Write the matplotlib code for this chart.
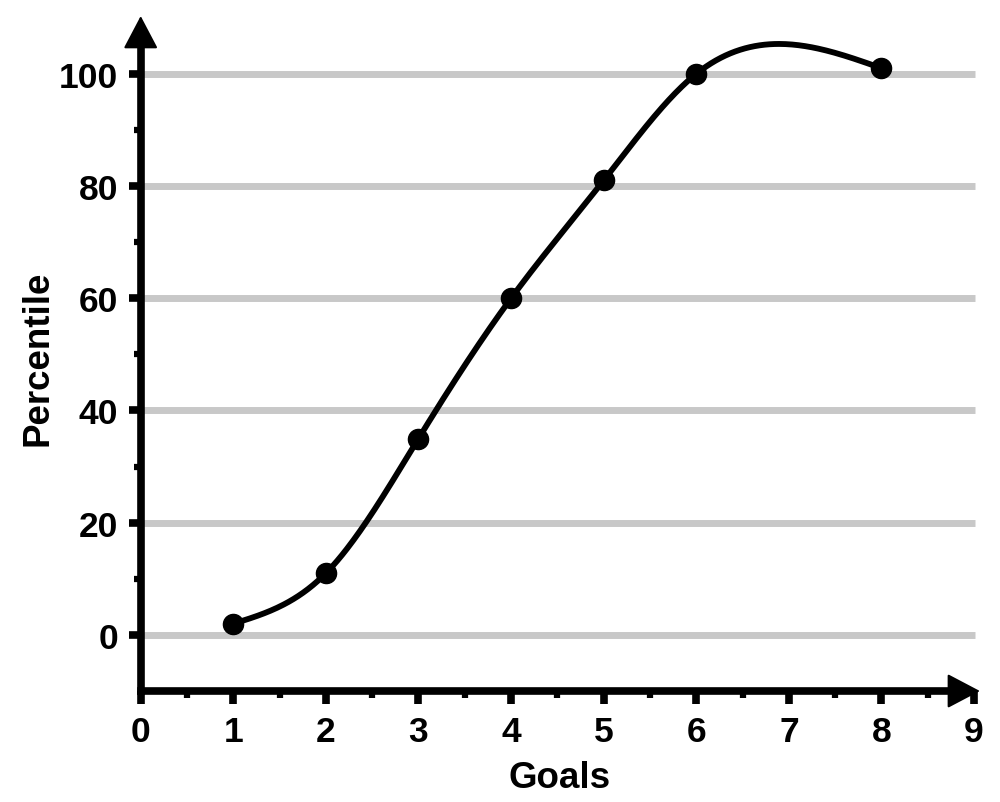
import numpy as np
import matplotlib
matplotlib.use("Agg")
import matplotlib.pyplot as plt
from matplotlib.ticker import MultipleLocator, FixedLocator

goals = [1, 2, 3, 4, 5, 6, 8]
percentile = [2, 11, 35, 60, 81, 100, 101]


def natural_spline(x, y, n=400):
    # plain natural cubic spline, just for the drawn connector
    x = np.asarray(x, float)
    y = np.asarray(y, float)
    k = len(x)
    h = np.diff(x)
    A = np.zeros((k, k))
    b = np.zeros(k)
    A[0, 0] = 1
    A[-1, -1] = 1
    for i in range(1, k - 1):
        A[i, i - 1] = h[i - 1]
        A[i, i] = 2 * (h[i - 1] + h[i])
        A[i, i + 1] = h[i]
        b[i] = 6 * ((y[i + 1] - y[i]) / h[i] - (y[i] - y[i - 1]) / h[i - 1])
    M = np.linalg.solve(A, b)
    xs = np.linspace(x[0], x[-1], n)
    idx = np.clip(np.searchsorted(x, xs) - 1, 0, k - 2)
    x0, x1 = x[idx], x[idx + 1]
    hh = x1 - x0
    ys = (M[idx] * (x1 - xs) ** 3 / (6 * hh) + M[idx + 1] * (xs - x0) ** 3 / (6 * hh)
          + (y[idx] / hh - M[idx] * hh / 6) * (x1 - xs)
          + (y[idx + 1] / hh - M[idx + 1] * hh / 6) * (xs - x0))
    return xs, ys


def main():
    plt.rcParams["font.family"] = ["Liberation Sans", "DejaVu Sans"]
    plt.rcParams["font.weight"] = "bold"

    fig = plt.figure(figsize=(10, 8.03), dpi=100)
    ax = fig.add_axes([0.1407, 0.1382, 0.8334, 0.8406])

    ax.set_xlim(0, 9)
    ax.set_ylim(-10, 110.3)

    for v in range(0, 101, 20):
        ax.plot([0, 9.01], [v, v], color="#c8c8c8", lw=5, zorder=1,
                solid_capstyle="butt", clip_on=False)

    xs, ys = natural_spline(goals, percentile)
    ax.plot(xs, ys, color="black", lw=4.2, zorder=3)
    ax.plot(goals, percentile, "o", color="black", ms=14.5, zorder=4)

    ax.spines["top"].set_visible(False)
    ax.spines["right"].set_visible(False)
    ax.spines["left"].set_linewidth(5.5)
    ax.spines["bottom"].set_linewidth(5.5)
    ax.spines["left"].set_bounds(-10, 106)
    ax.spines["bottom"].set_bounds(0, 8.8)

    ax.xaxis.set_major_locator(MultipleLocator(1))
    ax.xaxis.set_minor_locator(FixedLocator(np.arange(0.5, 8.6, 1)))
    ax.set_yticks([0, 20, 40, 60, 80, 100])
    ax.yaxis.set_minor_locator(FixedLocator(np.arange(10, 91, 20)))
    ax.tick_params(which="major", direction="out", length=9, width=5.5, labelsize=25.5)
    ax.tick_params(axis="x", which="major", pad=8)
    ax.tick_params(axis="y", which="major", pad=7)
    ax.tick_params(which="minor", direction="out", length=5, width=4.5)

    # arrow heads on the axes
    head = "-|>,head_length=0.95,head_width=0.5"
    ax.annotate("", xy=(0, 1), xytext=(0, 0.95), xycoords="axes fraction",
                arrowprops=dict(arrowstyle=head, color="black", lw=1.5,
                                mutation_scale=22, shrinkA=0, shrinkB=0))
    ax.annotate("", xy=(1.007, 0), xytext=(0.96, 0), xycoords="axes fraction",
                arrowprops=dict(arrowstyle=head, color="black", lw=1.5,
                                mutation_scale=22, shrinkA=0, shrinkB=0))

    ax.set_xlabel("Goals", fontsize=26.5, fontweight="bold", va="baseline")
    ax.set_ylabel("Percentile", fontsize=26.5, fontweight="bold", va="baseline")
    ax.xaxis.set_label_coords(0.503, -0.1422)
    ax.yaxis.set_label_coords(-0.1124, 0.495)

    fig.savefig("out.png", dpi=100)


if __name__ == "__main__":
    main()
